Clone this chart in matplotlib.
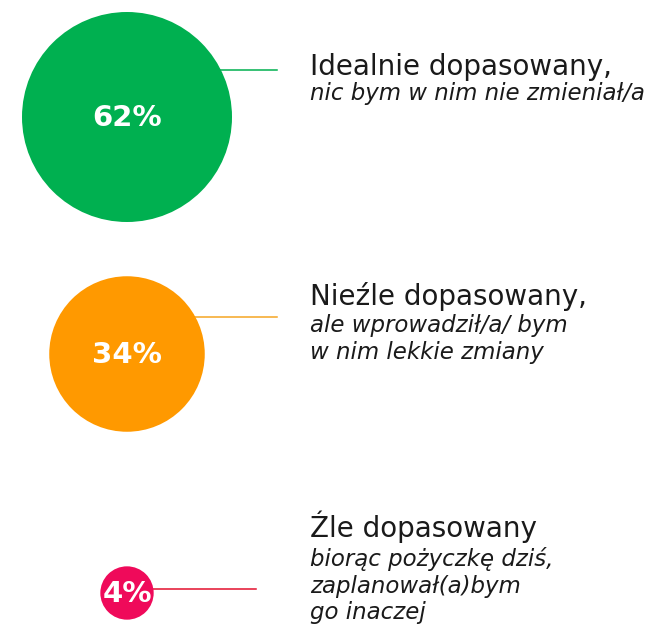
import numpy as np
import matplotlib.pyplot as plt
from matplotlib.patches import Circle

# shares of answers (in %)
values = [62, 34, 4]
labels = ['62%', '34%', '4%']
titles = ['Idealnie dopasowany,', 'Nieźle dopasowany,', 'Źle dopasowany']
subtitles = [['nic bym w nim nie zmieniał/a'],
             ['ale wprowadził/a/ bym', 'w nim lekkie zmiany'],
             ['biorąc pożyczkę dziś,', 'zaplanował(a)bym', 'go inaczej']]
colors = ['#00B050', '#FF9900', '#EF0A5A']
line_colors = ['#00B050', '#F5A623', '#E3102E']

fig = plt.figure(figsize=(6.63, 6.26), dpi=100)
ax = fig.add_axes([0, 0, 1, 1])
ax.set_xlim(0, 663)
ax.set_ylim(626, 0)
ax.set_aspect('equal')
ax.axis('off')

rmax = 105
cx = 127
cy = [117, 354, 593]
line_y = [70, 317, 589]
line_end = [277, 277, 256]
title_y = [75, 305, 537]
sub_y = [100, 332, 566]

for i, v in enumerate(values):
    r = rmax * np.sqrt(v / max(values))
    # connector line from circle edge to text
    dx = np.sqrt(max(r**2 - (line_y[i] - cy[i])**2, 0))
    ax.plot([cx + dx - 2, line_end[i]], [line_y[i], line_y[i]],
            color=line_colors[i], lw=1.1, zorder=1)
    ax.add_patch(Circle((cx, cy[i]), r, color=colors[i], zorder=2, lw=0))
    ax.text(cx, cy[i] + 1, labels[i], color='white', fontsize=21,
            fontweight='heavy', ha='center', va='center', zorder=3)
    ax.text(310, title_y[i], titles[i], fontsize=20, color='#1a1a1a',
            ha='left', va='baseline')
    for k, s in enumerate(subtitles[i]):
        ax.text(310, sub_y[i] + 26.5 * k, s, fontsize=16.5, style='italic',
                color='#1a1a1a', ha='left', va='baseline')

fig.savefig('out.png', dpi=100)
